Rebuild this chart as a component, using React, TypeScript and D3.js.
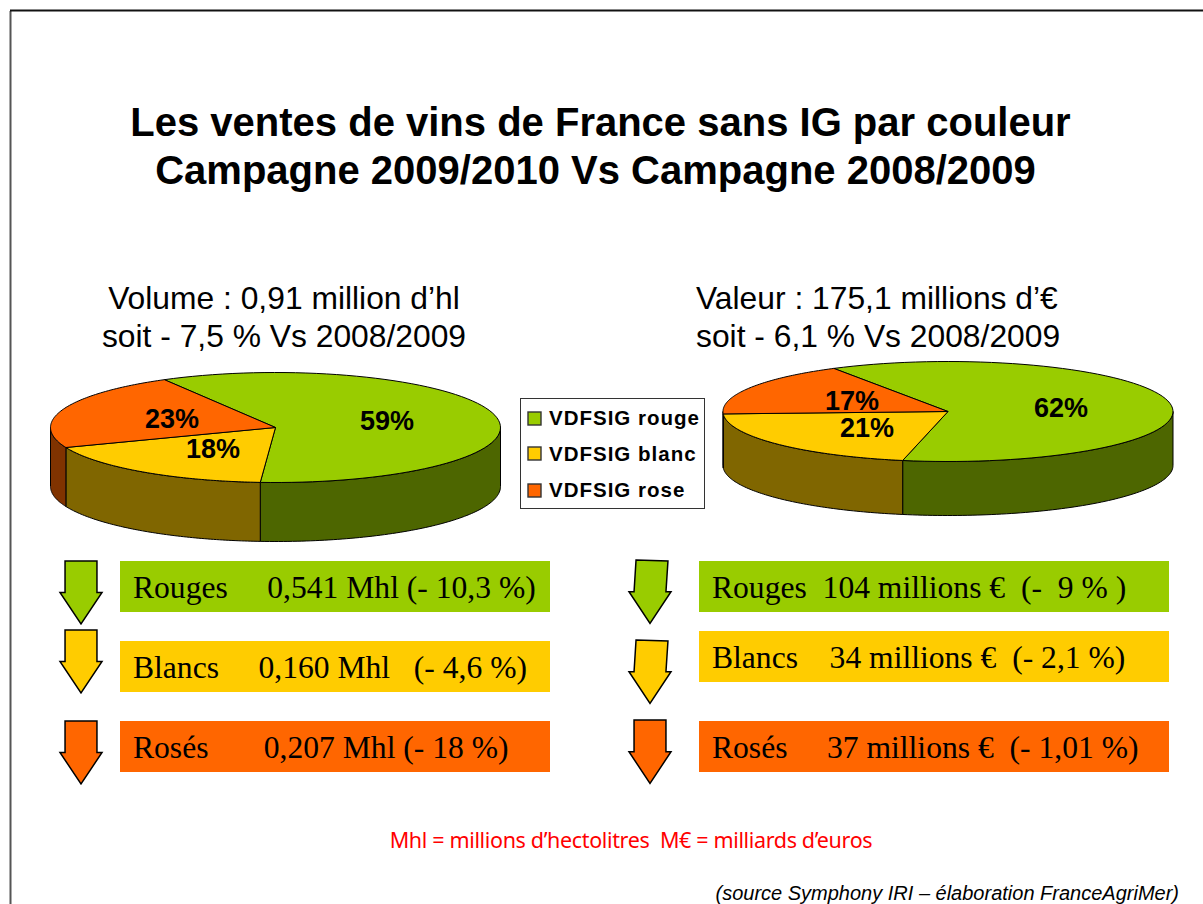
import React from "react";
import * as d3 from "d3";

const titleLines = ["Les ventes de vins de France sans IG par couleur", "Campagne 2009/2010 Vs Campagne 2008/2009"];
const categories = ["VDFSIG rouge", "VDFSIG blanc", "VDFSIG rose"];
const volumeShares = [59.3, 18, 22.7];
const valueShares = [61.7, 21, 17.3];
const volumeHeading = ["Volume : 0,91 million d’hl", "soit - 7,5 % Vs 2008/2009"];
const valueHeading = ["Valeur : 175,1 millions d’€", "soit - 6,1 % Vs 2008/2009"];
const volumeRows = ["Rouges     0,541 Mhl (- 10,3 %)", "Blancs     0,160 Mhl   (- 4,6 %)", "Rosés       0,207 Mhl (- 18 %)"];
const valueRows = ["Rouges  104 millions €  (-  9 % )", "Blancs    34 millions €  (- 2,1 %)", "Rosés     37 millions €  (- 1,01 %)"];
const footnote = "Mhl = millions d’hectolitres  M€ = milliards d’euros";
const source = "(source Symphony IRI – élaboration FranceAgriMer)";

const topColors = ["#99CC00", "#FFCC00", "#FF6600"];
const sideColors = ["#4D6600", "#806600", "#803300"];
const SANS = "'Liberation Sans', Arial, sans-serif";
const SERIF = "'Liberation Serif', 'Times New Roman', serif";

type PieCfg = { cx: number; cy: number; rx: number; ry: number; depth: number; start: number; labels: [number, number][] };

function Pie3D({ shares, cfg }: { shares: number[]; cfg: PieCfg }) {
  const { cx, cy, rx, ry, depth } = cfg;
  const slices = d3.pie<number>().sort(null).startAngle(cfg.start).endAngle(cfg.start + 2 * Math.PI)(shares);
  const pt = (a: number, dy = 0): [number, number] => [cx + rx * Math.sin(a), cy - ry * Math.cos(a) + dy];
  const arcPath = (a0: number, a1: number, dy = 0) => {
    const n = 80;
    const pts = d3.range(n + 1).map((i) => pt(a0 + ((a1 - a0) * i) / n, dy));
    return d3.line()(pts) as string;
  };
  const sides = slices.map((s, i) => {
    const a0 = Math.max(s.startAngle, Math.PI / 2);
    const a1 = Math.min(s.endAngle, (3 * Math.PI) / 2);
    if (a1 <= a0) return null;
    const top = d3.range(81).map((k) => pt(a0 + ((a1 - a0) * k) / 80));
    const bottom = top.map(([x, y]) => [x, y + depth] as [number, number]).reverse();
    return <path key={i} d={(d3.line()([...top, ...bottom]) as string) + "Z"} fill={sideColors[i]} stroke="#000" strokeWidth={1} strokeLinejoin="round" />;
  });
  return (
    <g>
      {sides}
      {slices.map((s, i) => (
        <path key={i} d={`M${cx},${cy}L${arcPath(s.startAngle, s.endAngle).slice(1)}Z`} fill={topColors[i]} stroke="#000" strokeWidth={1} strokeLinejoin="round" />
      ))}
      {slices.map((s, i) => (
        <text key={i} x={cfg.labels[i][0]} y={cfg.labels[i][1]} textAnchor="middle" fontFamily={SANS} fontWeight="bold" fontSize={27}>
          {Math.round(shares[i])}%
        </text>
      ))}
    </g>
  );
}

function Arrow({ x, y, w, h, skew, color }: { x: number; y: number; w: number; h: number; skew: number; color: string }) {
  const sw = w * 0.76;
  const head = h * 0.5;
  const points: [number, number][] = [
    [x + w / 2 - sw / 2 + skew, y],
    [x + w / 2 + sw / 2 + skew, y + (skew ? 1 : 0)],
    [x + w / 2 + sw / 2, y + h - head],
    [x + w, y + h - head],
    [x + w / 2, y + h],
    [x, y + h - head],
    [x + w / 2 - sw / 2, y + h - head],
  ];
  return <path d={(d3.line()(points) as string) + "Z"} fill={color} stroke="#000" strokeWidth={1.5} strokeLinejoin="miter" />;
}

function Row({ x, y, w, h, text, color, size }: { x: number; y: number; w: number; h: number; text: string; color: string; size: number }) {
  return (
    <g>
      <rect x={x} y={y} width={w} height={h} fill={color} />
      <text x={x + 13} y={y + 36.5} fontFamily={SERIF} fontSize={size} style={{ whiteSpace: "pre" }}>
        {text}
      </text>
    </g>
  );
}

export default function App() {
  const leftRowY = [561, 641, 721];
  const rightRowY = [561, 631, 721];
  const leftArrowY = [561, 630, 721];
  const rightArrowY = [560, 640, 720];
  const titleX = [600.5, 595.5];
  return (
    <svg width={1203} height={904} viewBox="0 0 1203 904" style={{ position: "absolute", left: 0, top: 0, background: "#fff" }}>
      <path d="M10.5,904V11" fill="none" stroke="#555" strokeWidth={2} />
      <path d="M10,10.5H1203" fill="none" stroke="#111" strokeWidth={2} />
      {titleLines.map((t, i) => (
        <text key={t} x={titleX[i]} y={136 + i * 48} textAnchor="middle" fontFamily={SANS} fontWeight="bold" fontSize={40}>
          {t}
        </text>
      ))}
      {volumeHeading.map((t, i) => (
        <text key={t} x={284} y={309 + i * 38} textAnchor="middle" fontFamily={SANS} fontSize={31.8}>
          {t}
        </text>
      ))}
      {valueHeading.map((t, i) => (
        <text key={t} x={696} y={309 + i * 38} fontFamily={SANS} fontSize={31.8}>
          {t}
        </text>
      ))}
      <Pie3D shares={volumeShares} cfg={{ cx: 275.5, cy: 427.5, rx: 225, ry: 55, depth: 59, start: (-29.6 * Math.PI) / 180, labels: [[387, 430], [213, 458], [172, 428]] }} />
      <Pie3D shares={valueShares} cfg={{ cx: 948, cy: 411.5, rx: 225, ry: 50, depth: 54, start: (-30.5 * Math.PI) / 180, labels: [[1061, 417], [867, 437], [852, 410]] }} />
      <rect x={520.5} y={398.5} width={184} height={110} fill="#fff" stroke="#333" strokeWidth={1} />
      {categories.map((c, i) => (
        <g key={c}>
          <rect x={528} y={[412, 447, 484][i]} width={13} height={13} fill={topColors[i]} stroke="#333" strokeWidth={1.4} />
          <text x={549} y={[425, 461, 497][i]} fontFamily={SANS} fontWeight="bold" fontSize={20.5} letterSpacing={1}>
            {c}
          </text>
        </g>
      ))}
      {volumeRows.map((t, i) => (
        <g key={t}>
          <Arrow x={60} y={leftArrowY[i]} w={42} h={63} skew={0} color={topColors[i]} />
          <Row x={120} y={leftRowY[i]} w={430} h={51} text={t} color={topColors[i]} size={31.6} />
        </g>
      ))}
      {valueRows.map((t, i) => (
        <g key={t}>
          <Arrow x={629} y={rightArrowY[i]} w={42} h={63.5} skew={i < 2 ? 2 : 0} color={topColors[i]} />
          <Row x={699} y={rightRowY[i]} w={470} h={51} text={t} color={topColors[i]} size={31.6} />
        </g>
      ))}
      <text x={631} y={848} textAnchor="middle" fontFamily="'Noto Sans', sans-serif" fontSize={21.5} letterSpacing={-0.35} fill="#FF0000" style={{ whiteSpace: "pre" }}>
        {footnote}
      </text>
      <text x={1179} y={900} textAnchor="end" fontFamily={SANS} fontStyle="italic" fontSize={20}>
        {source}
      </text>
    </svg>
  );
}
